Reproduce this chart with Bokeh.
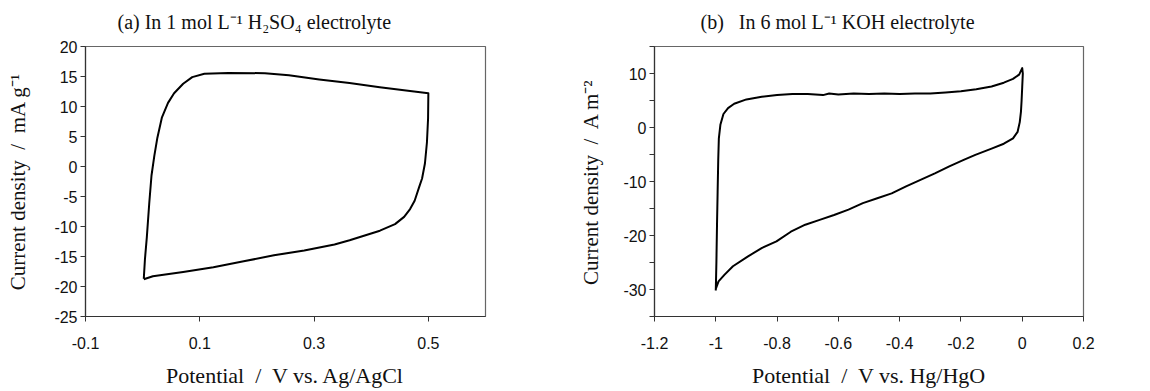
from bokeh.plotting import figure
from bokeh.layouts import row
from bokeh.models import FixedTicker, Range1d, Title
from bokeh.embed import file_html
from bokeh.resources import INLINE

# ---- Panel (a): H2SO4, potential (V vs Ag/AgCl) and current density (mA/g)
a_potential = [0.002, 0.004, 0.0073, 0.0115, 0.0155, 0.0205, 0.0258, 0.0338, 0.0444, 0.055,
               0.0709, 0.0868, 0.108, 0.150, 0.214, 0.256, 0.309, 0.362, 0.415, 0.468,
               0.500, 0.4995, 0.4975, 0.494, 0.489, 0.484, 0.476, 0.468, 0.4576, 0.4417,
               0.4152, 0.3887, 0.3622, 0.3358, 0.2828, 0.2298, 0.1768, 0.1238, 0.0709, 0.0179,
               0.002]
a_current = [-18.7, -15.5, -11.8, -6.2, -1.5, 1.8, 4.8, 8.2, 10.6, 12.2,
             13.8, 14.9, 15.45, 15.6, 15.55, 15.2, 14.5, 13.9, 13.2, 12.6,
             12.2, 8.0, 4.0, 0.5, -2.0, -3.4, -5.7, -7.1, -8.4, -9.6,
             -10.7, -11.5, -12.3, -13.0, -14.0, -14.8, -15.8, -16.8, -17.6, -18.3,
             -18.8]

# ---- Panel (b): KOH, potential (V vs Hg/HgO) and current density (A/m2)
b_potential = [-1.0, -0.998, -0.996, -0.994, -0.992, -0.99, -0.985, -0.975, -0.96, -0.94,
               -0.9, -0.85, -0.8, -0.75, -0.7, -0.65, -0.63, -0.6, -0.55, -0.5,
               -0.45, -0.4, -0.35, -0.3, -0.25, -0.2, -0.15, -0.1, -0.06, -0.03,
               -0.01, 0.0, 0.002, 0.0, -0.002, -0.004, -0.008, -0.015, -0.03, -0.06,
               -0.1, -0.153, -0.191, -0.238, -0.285, -0.332, -0.379, -0.426, -0.473, -0.52,
               -0.567, -0.614, -0.661, -0.708, -0.755, -0.802, -0.849, -0.896, -0.944, -0.972,
               -0.991, -1.0, -1.0]
b_current = [-30.2, -25.0, -18.0, -12.0, -6.0, -2.0, 0.5, 2.5, 3.6, 4.4,
             5.2, 5.7, 6.0, 6.2, 6.2, 6.0, 6.3, 6.1, 6.3, 6.2,
             6.3, 6.2, 6.3, 6.3, 6.5, 6.7, 7.1, 7.6, 8.3, 9.0,
             9.8, 11.0, 10.0, 7.5, 5.0, 3.0, 1.0, -0.8, -2.0, -3.0,
             -3.9, -5.06, -6.0, -7.2, -8.5, -9.7, -10.9, -12.2, -13.1, -14.0,
             -15.2, -16.2, -17.1, -18.0, -19.3, -21.1, -22.3, -23.9, -25.7, -27.3,
             -28.5, -29.9, -30.2]

a_xticks = [-0.1, 0.1, 0.3, 0.5]
a_xlabels = ["-0.1", "0.1", "0.3", "0.5"]
a_yticks = [-25, -20, -15, -10, -5, 0, 5, 10, 15, 20]
a_ylabels = ["-25", "-20", "-15", "-10", "-5", "0", "5", "10", "15", "20"]

b_xticks = [-1.2, -1.0, -0.8, -0.6, -0.4, -0.2, 0.0, 0.2]
b_xlabels = ["-1.2", "-1", "-0.8", "-0.6", "-0.4", "-0.2", "0", "0.2"]
b_yticks = [-35, -30, -25, -20, -15, -10, -5, 0, 5, 10, 15]
b_ylabels = ["", "-30", "", "-20", "", "-10", "", "0", "", "10", ""]

SANS = "Liberation Sans"
SERIF = "Liberation Serif"
NB = "\u00a0"


def make_panel(title, offset, xr, yr, xticks, xlabels, yticks, ylabels,
               xlabel, ylabel, xs, ys, width, bl, br, ylab_standoff):
    p = figure(width=width, height=391, x_range=Range1d(*xr), y_range=Range1d(*yr),
               output_backend="svg", toolbar_location=None, title=None,
               min_border_left=bl, min_border_right=br, min_border_top=46, min_border_bottom=75)
    # thin spacer keeps the title a little higher above the frame
    p.add_layout(Title(text=NB, text_font_size="7px", standoff=0), "above")
    p.add_layout(Title(text=title, align="left", offset=offset, text_font=SERIF,
                       text_font_size="20px", text_font_style="normal",
                       text_color="#111111"), "above")
    p.xgrid.visible = False
    p.ygrid.visible = False
    p.outline_line_color = "#666666"
    p.outline_line_width = 1.2
    p.background_fill_color = "white"
    p.border_fill_color = "white"

    for ax in (p.xaxis[0], p.yaxis[0]):
        ax.axis_line_color = "#333333"
        ax.axis_line_width = 1.2
        ax.major_tick_line_color = "#333333"
        ax.major_tick_in = 0
        ax.major_tick_out = 5
        ax.minor_tick_line_color = None
        ax.major_label_text_font = SANS
        ax.major_label_text_font_size = "16px"
        ax.major_label_text_color = "#111111"
        ax.axis_label_text_font = SERIF
        ax.axis_label_text_font_style = "normal"
        ax.axis_label_text_color = "#111111"

    p.xaxis.axis_label_text_font_size = "22px"
    p.yaxis.axis_label_text_font_size = "21px"
    p.xaxis.ticker = FixedTicker(ticks=xticks)
    p.xaxis.major_label_overrides = {t: s for t, s in zip(xticks, xlabels)}
    p.yaxis.ticker = FixedTicker(ticks=yticks)
    p.yaxis.major_label_overrides = {t: s for t, s in zip(yticks, ylabels)}
    p.xaxis.major_label_standoff = 15
    p.yaxis.major_label_standoff = 3
    p.xaxis.axis_label = xlabel
    p.yaxis.axis_label = ylabel
    p.xaxis.axis_label_standoff = 11
    p.yaxis.axis_label_standoff = ylab_standoff

    p.line(xs, ys, line_color="black", line_width=2, line_join="round")
    return p


pa = make_panel("(a) In 1 mol L\u207b\u00b9 H\u2082SO\u2084 electrolyte", 32,
                (-0.1, 0.6), (-25, 20), a_xticks, a_xlabels, a_yticks, a_ylabels,
                "Potential " + NB + "/" + NB + " V vs. Ag/AgCl",
                "Current density " + NB + "/" + NB + " mA g\u207b\u00b9",
                a_potential, a_current, 575, 85, 90, 21)
pb = make_panel("(b)" + NB + NB + " In 6 mol L\u207b\u00b9 KOH electrolyte", 46,
                (-1.2, 0.2), (-35, 15), b_xticks, b_xlabels, b_yticks, b_ylabels,
                "Potential " + NB + "/" + NB + " V vs. Hg/HgO",
                "Current density " + NB + "/" + NB + " A m\u207b\u00b2",
                b_potential, b_current, 575, 79, 67, 17)

layout = row(pa, pb)
open("out.html", "w").write(file_html(layout, INLINE))
